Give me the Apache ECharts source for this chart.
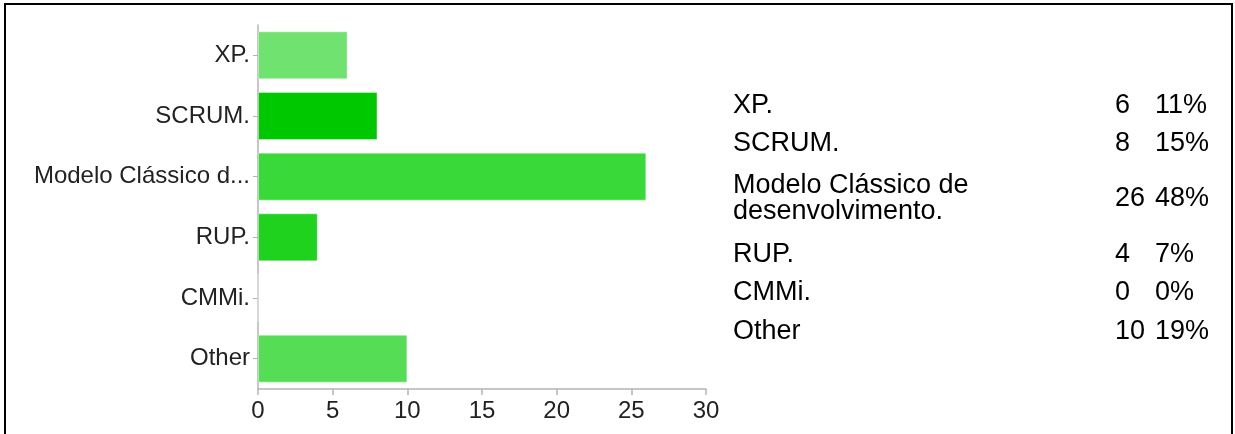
<!DOCTYPE html>
<html>
<head>
<meta charset="utf-8">
<script src="https://cdn.jsdelivr.net/npm/echarts@6/dist/echarts.min.js"></script>
<style>
  html, body { margin: 0; padding: 0; background: #fff; }
  #chart { width: 1235px; height: 434px; }
</style>
</head>
<body>
<div id="chart"></div>
<script>
// Survey answers: development process used
const categories = ['XP.', 'SCRUM.', 'Modelo Clássico de desenvolvimento.', 'RUP.', 'CMMi.', 'Other'];
const counts = [6, 8, 26, 4, 0, 10];
const shares = ['11%', '15%', '48%', '7%', '0%', '19%'];
const barColors = ['#70e270', '#00c800', '#3ad93a', '#1ed21e', '#2fd62f', '#55de55'];
const xTicks = [0, 5, 10, 15, 20, 25, 30];

const FONT = '"Liberation Sans", Arial, Helvetica, sans-serif';
const chart = echarts.init(document.getElementById('chart'), null, { renderer: 'canvas' });

// Summary table on the right: label, count, share
const tableFont = 27;
const tableLineH = 26;
const labelWidth = 300;
const ctx = document.createElement('canvas').getContext('2d');
ctx.font = tableFont + 'px ' + FONT;

function lineCount(text) {
  const words = text.split(' ');
  let lines = 1, cur = '';
  for (const w of words) {
    const t = cur ? cur + ' ' + w : w;
    if (ctx.measureText(t).width > labelWidth && cur) { lines++; cur = w; } else { cur = t; }
  }
  return lines;
}

const tableGraphics = [];
let rowTop = 86;
categories.forEach((name, i) => {
  const lines = lineCount(name);
  const h = lines > 1 ? 72 : 38.5;
  const cy = rowTop + h / 2;
  tableGraphics.push({
    type: 'text', x: 733, y: cy, silent: true,
    style: { text: name, font: tableFont + 'px ' + FONT, fill: '#000', verticalAlign: 'middle',
             width: labelWidth, overflow: 'break', lineHeight: tableLineH }
  });
  const cText = String(counts[i]);
  tableGraphics.push({
    type: 'text', x: 1115, y: cy, silent: true,
    style: { text: cText, font: tableFont + 'px ' + FONT, fill: '#000', verticalAlign: 'middle' }
  });
  const px = Math.max(1155, 1115 + ctx.measureText(cText).width);
  tableGraphics.push({
    type: 'text', x: px, y: cy, silent: true,
    style: { text: shares[i], font: tableFont + 'px ' + FONT, fill: '#000', verticalAlign: 'middle' }
  });
  rowTop += h;
});

const option = {
  animation: false,
  backgroundColor: '#fff',
  grid: { left: 258, top: 25, right: 529, bottom: 45, containLabel: false },
  xAxis: {
    type: 'value', min: xTicks[0], max: xTicks[xTicks.length - 1], interval: 5,
    axisLine: { show: true, lineStyle: { color: '#b4b4b4', width: 1.5 } },
    axisTick: { show: true, length: 6, lineStyle: { color: '#b4b4b4', width: 1.5 } },
    axisLabel: { fontFamily: FONT, fontSize: 24, color: '#222', margin: 10 },
    splitLine: { show: false }
  },
  yAxis: {
    type: 'category', data: categories, inverse: true,
    axisLine: { show: true, lineStyle: { color: '#b4b4b4', width: 1.5 } },
    axisTick: { show: true, length: 5, alignWithLabel: true, lineStyle: { color: '#b4b4b4' } },
    axisLabel: {
      fontFamily: FONT, fontSize: 24, color: '#222', margin: 8,
      formatter: (v) => (v.length > 20 ? v.slice(0, 17) + '...' : v)
    }
  },
  series: [{
    type: 'bar',
    data: counts.map((v, i) => ({ value: v, itemStyle: { color: barColors[i] } })),
    barCategoryGap: '21%',
    itemStyle: { borderColor: 'rgba(255,255,255,0.35)', borderWidth: 1 }
  }],
  graphic: [
    {
      type: 'rect', silent: true,
      shape: { x: 5, y: 4, width: 1227, height: 470 },
      style: { fill: 'none', stroke: '#000', lineWidth: 2 }
    }
  ].concat(tableGraphics)
};

chart.setOption(option);
</script>
</body>
</html>
